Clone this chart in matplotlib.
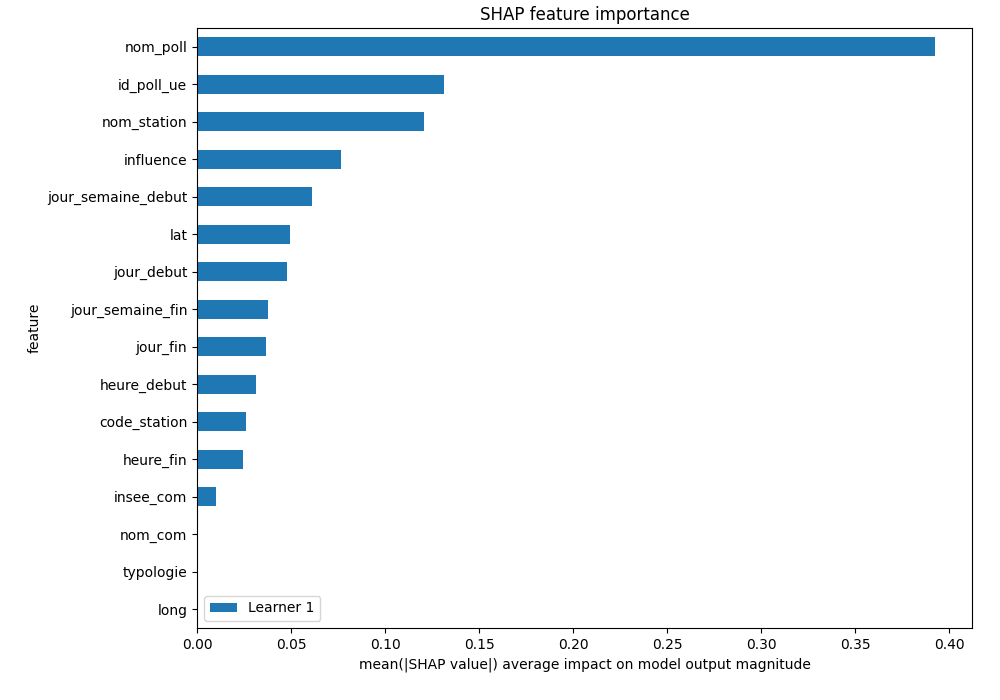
import matplotlib
matplotlib.use("Agg")
import matplotlib.pyplot as plt

features = ["long", "typologie", "nom_com", "insee_com", "heure_fin", "code_station",
            "heure_debut", "jour_fin", "jour_semaine_fin", "jour_debut", "lat",
            "jour_semaine_debut", "influence", "nom_station", "id_poll_ue", "nom_poll"]
values = [0.0, 0.0, 0.0, 0.0101, 0.0244, 0.0260,
          0.0312, 0.0365, 0.0376, 0.0477, 0.0493,
          0.0614, 0.0768, 0.1205, 0.1311, 0.3925]

fig = plt.figure(figsize=(10, 7), dpi=100)
ax = fig.add_axes([0.197, 0.103, 0.775, 0.857])
ypos = list(range(len(features)))
ax.barh(ypos, values, height=0.5, color="#1f77b4", label="Learner 1")
ax.set_yticks(ypos)
ax.set_yticklabels(features)
ax.set_ylim(-0.5, len(features) - 0.5)
ax.set_xlim(0, max(values) * 1.05)
ax.set_xlabel("mean(|SHAP value|) average impact on model output magnitude")
ax.set_ylabel("feature")
ax.set_title("SHAP feature importance")
ax.legend(loc="lower left")
fig.savefig("out.png", dpi=100)
